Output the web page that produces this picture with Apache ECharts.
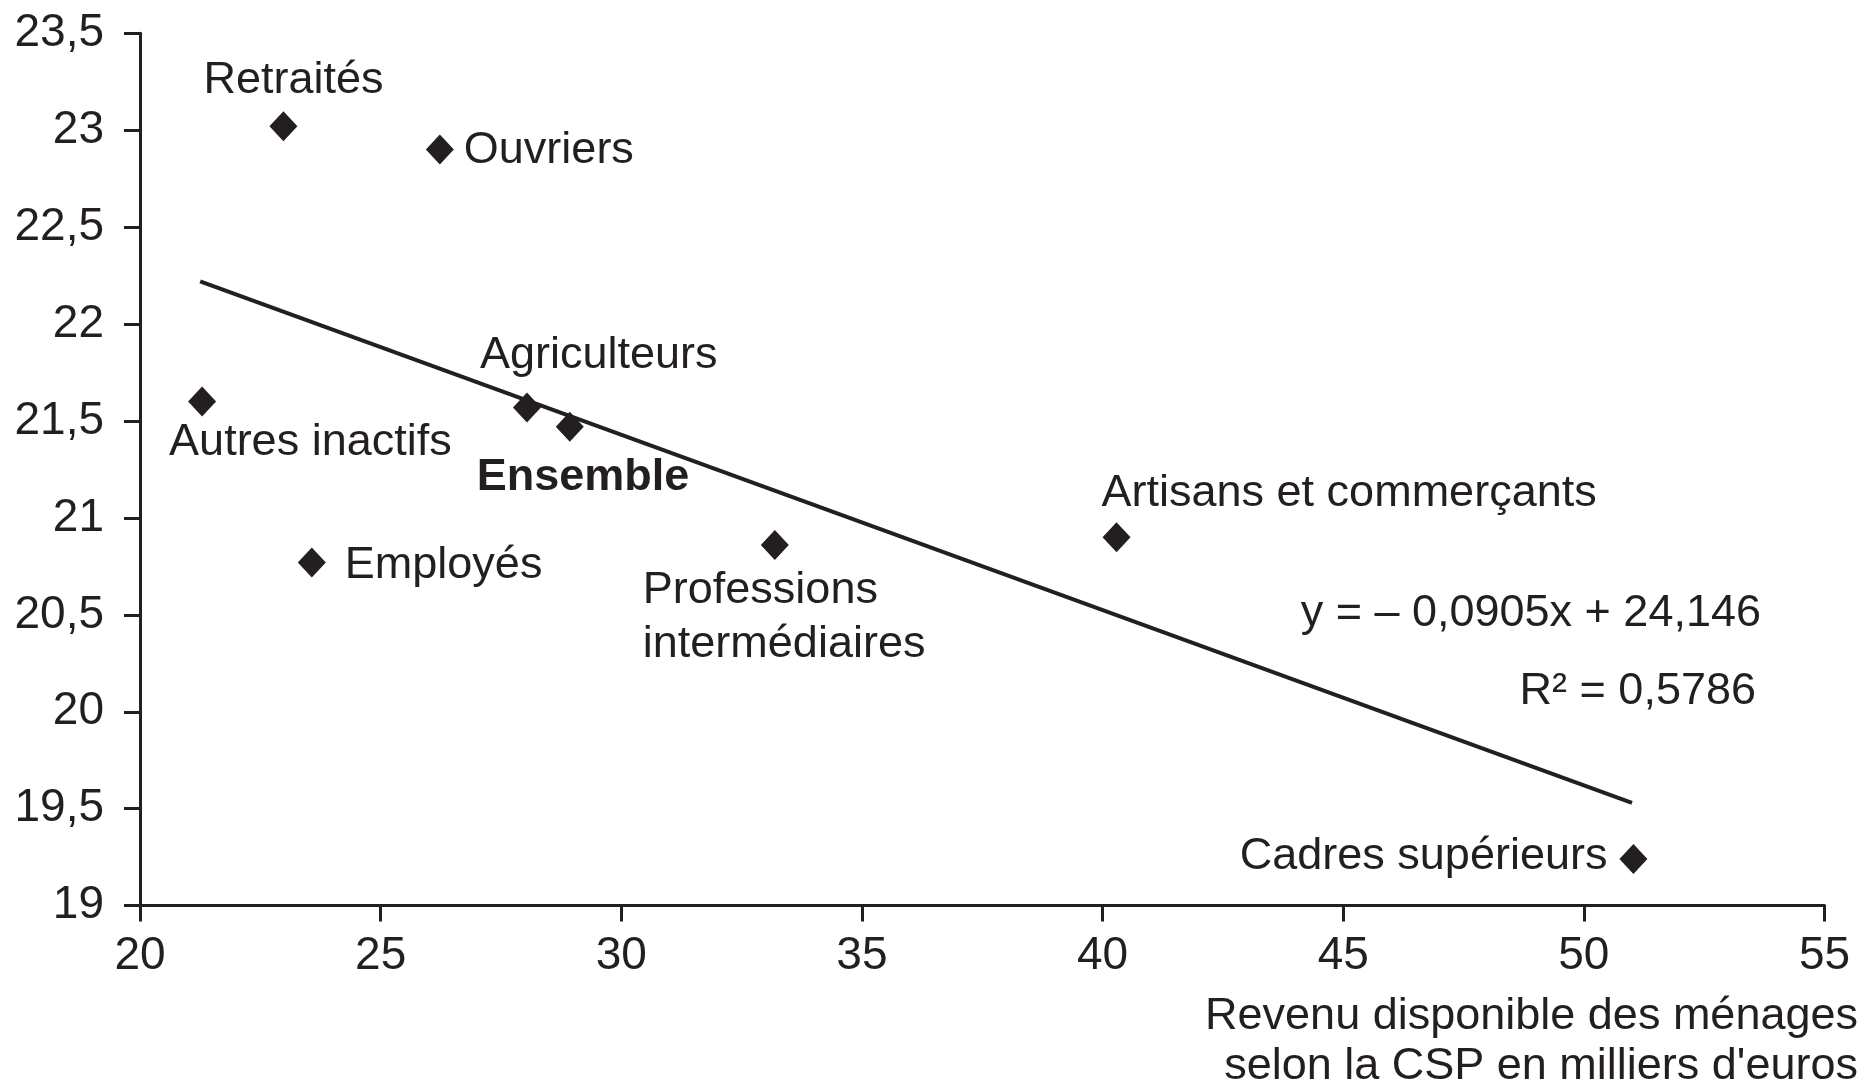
<!DOCTYPE html>
<html>
<head>
<meta charset="utf-8">
<title>Revenu disponible et CSP</title>
<script src="https://cdn.jsdelivr.net/npm/echarts@6/dist/echarts.min.js"></script>
<style>
  html, body { margin: 0; padding: 0; background: #fff; }
  #chart { width: 1866px; height: 1089px; }
</style>
</head>
<body>
<div id="chart"></div>
<script>
// catégories socioprofessionnelles
const categories = ['Retraités', 'Ouvriers', 'Autres inactifs', 'Agriculteurs', 'Ensemble',
  'Employés', 'Professions\nintermédiaires', 'Artisans et commerçants', 'Cadres supérieurs']
// revenu disponible (milliers d'euros)
const revenu = [22.98, 26.23, 21.29, 28.04, 28.93, 23.57, 33.19, 40.29, 51.03]
// valeur en ordonnée
const valeurs = [23.02, 22.90, 21.60, 21.57, 21.47, 20.77, 20.86, 20.90, 19.24]
// droite de tendance (extrémités lues)
const trendX = [21.25, 51.0]
const trendY = [22.22, 19.53]

const textColor = '#231f20'
const fontFamily = '"Liberation Sans", Arial, Helvetica, sans-serif'

// placement des étiquettes : [align, dx, dy]
const labelPos = [
  ['center', 10, -46],
  ['left', 24, 1],
  ['left', -33, 41],
  ['left', -47, -52],
  ['left', -93, 51],
  ['left', 33, 3],
  ['left', -132, 73],
  ['left', -15, -44],
  ['right', -26, -2]
]

const points = categories.map((name, i) => ({
  name: name,
  value: [revenu[i], valeurs[i]],
  label: {
    show: true,
    position: 'inside',
    align: labelPos[i][0],
    verticalAlign: 'middle',
    offset: [labelPos[i][1], labelPos[i][2]],
    formatter: '{b}',
    color: textColor,
    opacity: 1,
    fontSize: 45,
    lineHeight: 54,
    fontFamily: fontFamily,
    fontWeight: name === 'Ensemble' ? 'bold' : 'normal'
  }
}))

const chart = echarts.init(document.getElementById('chart'))

chart.setOption({
  backgroundColor: '#fff',
  animation: false,
  grid: {
    left: 140,
    right: 41.5,
    top: 33.3,
    bottom: 183.4,
    containLabel: false,
    outerBoundsMode: 'none'
  },
  xAxis: {
    type: 'value',
    min: 20,
    max: 55,
    interval: 5,
    splitLine: { show: false },
    axisLine: { lineStyle: { color: textColor, width: 3 } },
    axisTick: { length: 16, lineStyle: { color: textColor, width: 3 } },
    axisLabel: {
      color: textColor,
      fontSize: 46,
      fontFamily: fontFamily,
      margin: 28
    }
  },
  yAxis: {
    type: 'value',
    min: 19,
    max: 23.5,
    interval: 0.5,
    splitLine: { show: false },
    axisLine: { show: true, lineStyle: { color: textColor, width: 3 } },
    axisTick: { show: true, length: 16, lineStyle: { color: textColor, width: 3 } },
    axisLabel: {
      color: textColor,
      fontSize: 46,
      fontFamily: fontFamily,
      margin: 36,
      formatter: v => String(v).replace('.', ',')
    }
  },
  graphic: [
    {
      type: 'text',
      right: 1866 - 1761,
      top: 618 - 27,
      style: {
        text: 'y = – 0,0905x + 24,146',
        fill: textColor,
        font: '45px ' + fontFamily,
        textAlign: 'right'
      }
    },
    {
      type: 'text',
      right: 1866 - 1756,
      top: 696 - 27,
      style: {
        text: 'R² = 0,5786',
        fill: textColor,
        font: '45px ' + fontFamily,
        textAlign: 'right'
      }
    },
    {
      // titre de l'axe des abscisses
      type: 'text',
      right: 8,
      top: 992,
      style: {
        text: 'Revenu disponible des ménages\nselon la CSP en milliers d\'euros',
        fill: textColor,
        font: '45px ' + fontFamily,
        lineHeight: 50,
        textAlign: 'right'
      }
    }
  ],
  series: [
    {
      type: 'line',
      data: trendX.map((x, i) => [x, trendY[i]]),
      symbol: 'none',
      lineStyle: { color: textColor, width: 4 },
      z: 1,
      silent: true
    },
    {
      type: 'scatter',
      symbol: 'diamond',
      symbolSize: [28, 30],
      itemStyle: { color: textColor, opacity: 1 },
      data: points,
      z: 2
    }
  ]
})
</script>
</body>
</html>
